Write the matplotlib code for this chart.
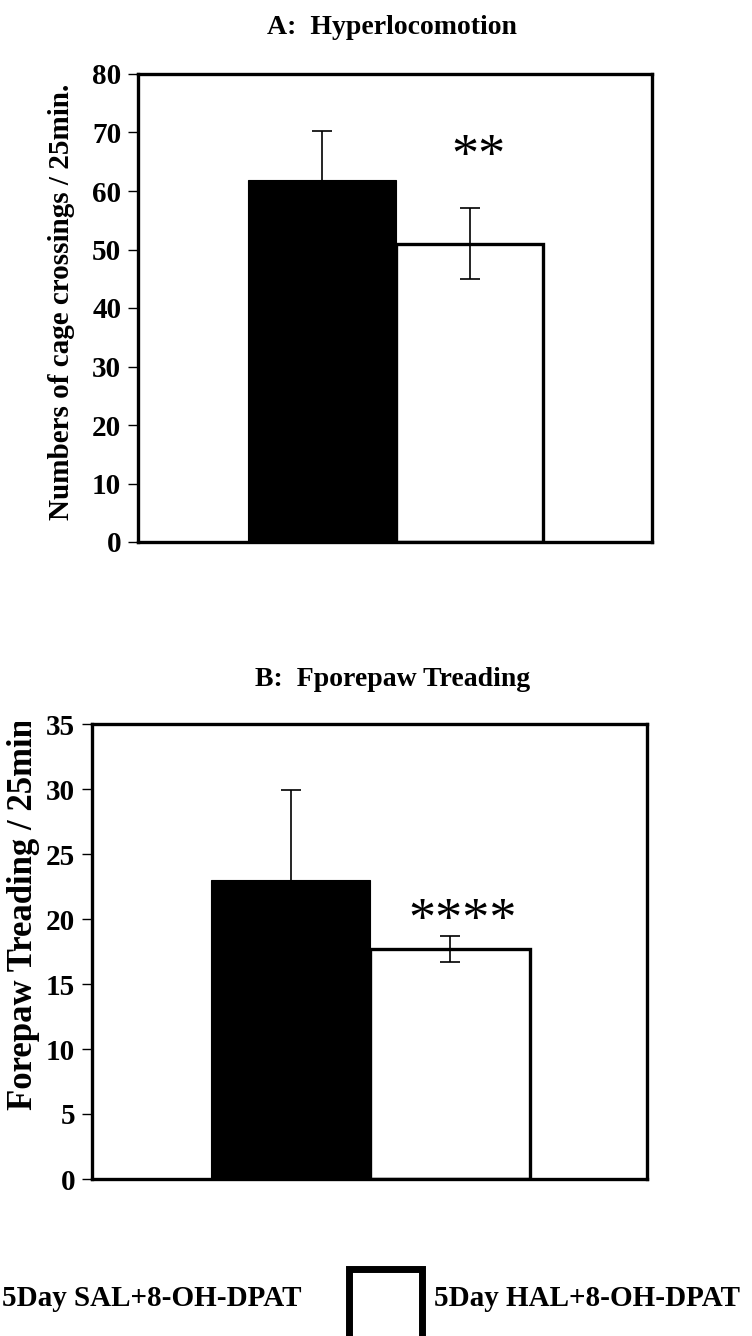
import matplotlib
matplotlib.use("Agg")
import matplotlib.pyplot as plt
from matplotlib.patches import Rectangle
from matplotlib.transforms import Bbox, TransformedBbox

# data
groups = ["5Day SAL+8-OH-DPAT", "5Day HAL+8-OH-DPAT"]
colors = ["black", "white"]

loco_mean = [61.9, 51.0]
loco_sem = [8.4, 6.1]
loco_ticks = [0, 10, 20, 30, 40, 50, 60, 70, 80]

tread_mean = [23.0, 17.7]
tread_sem = [6.9, 1.0]
tread_ticks = [0, 5, 10, 15, 20, 25, 30, 35]

bar_x = [0.358, 0.645]
bar_w = 0.287

W, H = 752, 1336
plt.rcParams["font.family"] = ["Liberation Serif", "DejaVu Serif"]
plt.rcParams["font.weight"] = "bold"

fig = plt.figure(figsize=(W / 100, H / 100), dpi=100)


def fx(px):
    return px / W


def fy(py):
    return 1 - py / H


def panel(rect, means, sems, ticks, stars, star_x, star_y):
    ax = fig.add_axes(rect)
    for x, m, e, c in zip(bar_x, means, sems, colors):
        lw = 0.8 if c == "black" else 2.4
        ax.bar(x, m, width=bar_w, color=c, edgecolor="black", linewidth=lw, zorder=2)
        ax.errorbar(x, m, yerr=e, fmt="none", ecolor="black", elinewidth=1.2,
                    capsize=7, capthick=1.2, zorder=3)
    ax.set_xlim(0, 1)
    ax.set_ylim(ticks[0], ticks[-1])
    ax.set_yticks(ticks)
    ax.set_yticklabels([str(t) for t in ticks], fontsize=21, fontweight="bold")
    ax.set_xticks([])
    ax.tick_params(axis="y", direction="out", length=7, width=1, pad=5)
    for s in ax.spines.values():
        s.set_linewidth(2.4)
    ax.text(star_x, star_y, stars, ha="center", va="baseline", fontsize=39,
            fontweight="normal")
    return ax


axA = panel([fx(138), fy(542), fx(652 - 138), (542 - 74) / H],
            loco_mean, loco_sem, loco_ticks, "**", 0.662, 63.5)
axB = panel([fx(92), fy(1179), fx(647 - 92), (1179 - 724) / H],
            tread_mean, tread_sem, tread_ticks, "****", 0.668, 18.8)

fig.text(fx(392), fy(27), "A:  Hyperlocomotion", ha="center", va="center",
         fontsize=20, fontweight="bold")
fig.text(fx(393), fy(680), "B:  Fporepaw Treading", ha="center", va="center",
         fontsize=20, fontweight="bold")

fig.text(fx(62), fy(302), "Numbers of cage crossings / 25min.", rotation=90,
         ha="center", va="center", fontsize=21, fontweight="bold")
yl = fig.text(fx(23), fy(1110), "Forepaw Treading / 25min", rotation=90,
              rotation_mode="anchor", ha="left", va="center", fontsize=25,
              fontweight="bold")
yl.set_clip_box(TransformedBbox(Bbox([[0, 0], [1, fy(722)]]), fig.transFigure))
yl.set_clip_on(True)

# legend
fig.text(fx(2), fy(1298), groups[0], ha="left", va="center", fontsize=21,
         fontweight="bold")
fig.patches.append(Rectangle((fx(349), fy(1345)), fx(73), (1345 - 1269) / H,
                             facecolor="white", edgecolor="black", linewidth=5,
                             transform=fig.transFigure, figure=fig))
fig.text(fx(434), fy(1298), groups[1], ha="left", va="center", fontsize=21,
         fontweight="bold")

fig.savefig("out.png", dpi=100)
